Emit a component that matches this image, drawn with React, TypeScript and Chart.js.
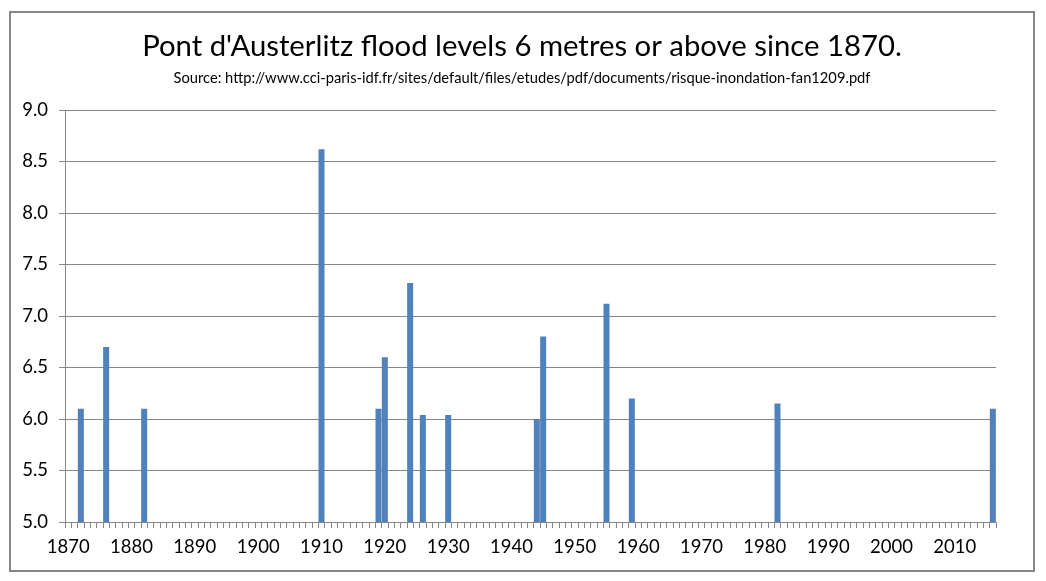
import React, { useEffect, useRef } from "react";
import { Chart, registerables } from "chart.js";

Chart.register(...registerables);

const firstYear = 1870;
const lastYear = 2016;
const floodYears = [1872, 1876, 1882, 1910, 1919, 1920, 1924, 1926, 1930, 1944, 1945, 1955, 1959, 1982, 2016];
const floodLevels = [6.1, 6.7, 6.1, 8.62, 6.1, 6.6, 7.32, 6.04, 6.04, 6.0, 6.8, 7.12, 6.2, 6.15, 6.1];
const yTicks = [5.0, 5.5, 6.0, 6.5, 7.0, 7.5, 8.0, 8.5, 9.0];

const titleText = "Pont d'Austerlitz flood levels 6 metres or above since 1870.";
const subtitleText =
  "Source: http://www.cci-paris-idf.fr/sites/default/files/etudes/pdf/documents/risque-inondation-fan1209.pdf";

const FONT = "Lato, 'Open Sans', sans-serif";
const GRID = "#868686";

const framePlugin = {
  id: "frame",
  beforeDraw(chart: any) {
    const ctx = chart.ctx;
    ctx.save();
    ctx.fillStyle = "#ffffff";
    ctx.fillRect(0, 0, chart.width, chart.height);
    ctx.strokeStyle = GRID;
    ctx.lineWidth = 2;
    ctx.strokeRect(10, 12, 1024, 559);
    ctx.restore();
  },
};

export default function App() {
  const ref = useRef<HTMLCanvasElement | null>(null);

  useEffect(() => {
    if (!ref.current) return;
    const labels: string[] = [];
    for (let y = firstYear; y <= lastYear; y++) labels.push(String(y));
    const values = labels.map((l) => {
      const i = floodYears.indexOf(Number(l));
      return i >= 0 ? floodLevels[i] : null;
    });

    const chart = new Chart(ref.current, {
      type: "bar",
      data: {
        labels,
        datasets: [
          {
            data: values,
            backgroundColor: "#4F81BD",
            borderWidth: 0,
            barPercentage: 0.95,
            categoryPercentage: 1,
          },
        ],
      },
      options: {
        responsive: false,
        animation: false,
        events: [],
        layout: { padding: { left: 10, right: 12, bottom: 20, top: 0 } },
        plugins: {
          legend: { display: false },
          tooltip: { enabled: false },
          title: {
            display: true,
            text: titleText,
            color: "#000000",
            font: { family: FONT, size: 29.3, weight: "normal" },
            padding: { top: 29, bottom: 0 },
          },
          subtitle: {
            display: true,
            text: subtitleText,
            color: "#000000",
            font: { family: FONT, size: 14.7, weight: "normal" },
            padding: { top: 5, bottom: 23.2 },
          },
        },
        scales: {
          x: {
            type: "category",
            offset: true,
            afterFit(scale: any) {
              scale.height = 39;
            },
            grid: {
              offset: true,
              drawOnChartArea: false,
              drawTicks: true,
              tickLength: 6,
              color: GRID,
            },
            border: { display: true, color: GRID },
            ticks: {
              autoSkip: false,
              maxRotation: 0,
              minRotation: 0,
              padding: 8,
              color: "#000000",
              font: { family: FONT, size: 18.5 },
              callback(_v: any, i: number) {
                const yr = Number(labels[i]);
                return yr % 10 === 0 ? String(yr) : "";
              },
            },
          },
          y: {
            min: 5,
            max: 9,
            afterFit(scale: any) {
              scale.width = 55;
            },
            afterBuildTicks(scale: any) {
              scale.ticks = yTicks.map((v) => ({ value: v }));
            },
            grid: { color: GRID, tickLength: 6, drawTicks: true },
            border: { display: true, color: GRID },
            ticks: {
              padding: 11,
              color: "#000000",
              font: { family: FONT, size: 18.5 },
              callback(v: any) {
                return Number(v).toFixed(1);
              },
            },
          },
          spacer: {
            type: "linear",
            position: "right",
            min: 5,
            max: 9,
            afterFit(scale: any) {
              scale.width = 38;
            },
            grid: { display: false },
            border: { display: false },
            ticks: { display: false },
          },
        },
      },
      plugins: [framePlugin],
    });
    return () => chart.destroy();
  }, []);

  return (
    <div style={{ position: "absolute", left: 0, top: 0, width: 1046, height: 581 }}>
      <canvas ref={ref} width={1046} height={581} />
    </div>
  );
}
